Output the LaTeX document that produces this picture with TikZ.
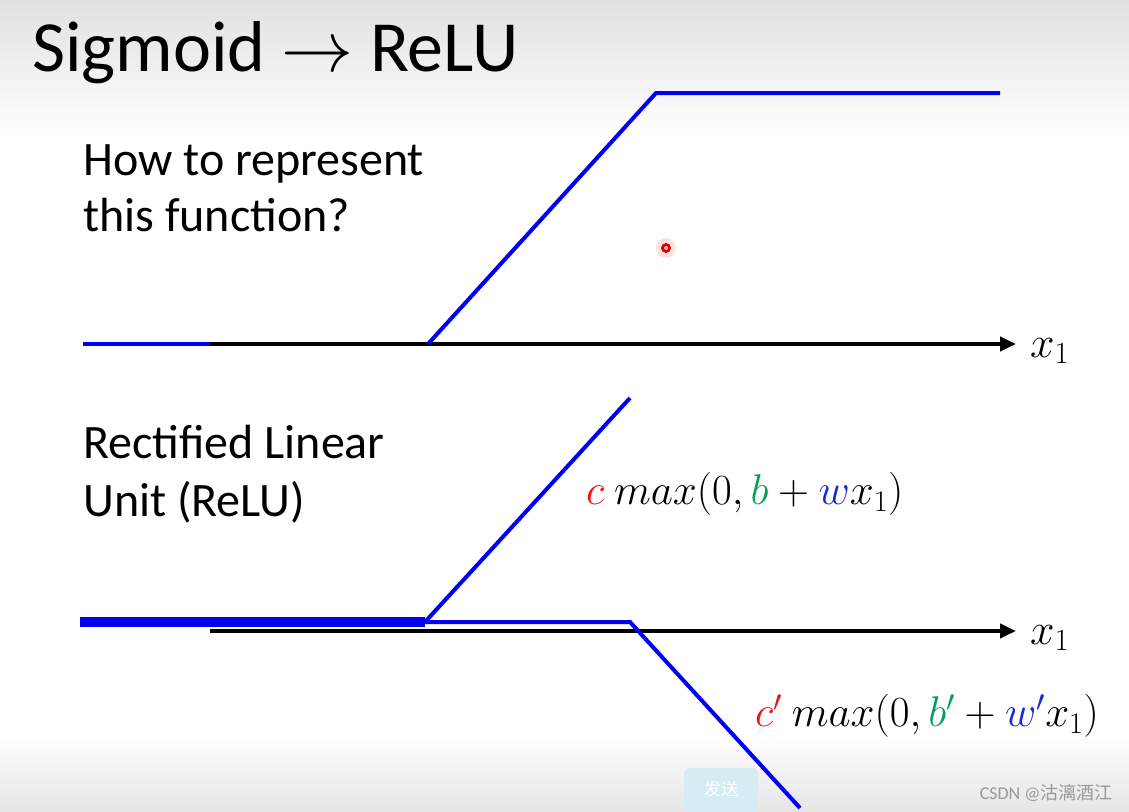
\documentclass[tikz,border=0pt]{standalone}
\usepackage{fix-cm}
\usepackage{fontspec}
\setmainfont{Carlito}
\newfontfamily\cjkfont{Noto Sans CJK SC}
\usetikzlibrary{arrows.meta}

\definecolor{relublue}{RGB}{0,0,245}
\definecolor{cred}{RGB}{240,20,20}
\definecolor{bgreen}{RGB}{0,160,90}
\definecolor{wblue}{RGB}{20,40,220}
\definecolor{btnblue}{RGB}{214,236,243}

\tikzset{
  axis/.style={line width=4pt, -{Triangle[length=16pt,width=14pt]}},
  relu/.style={relublue, line width=4pt, line join=miter},
  txt/.style={anchor=base west, inner sep=0pt, font=\fontsize{48}{56}\selectfont},
  formula/.style={anchor=west, inner sep=0pt, font=\fontsize{43}{50}\selectfont},
  xlabel/.style={anchor=west, inner sep=0pt, font=\fontsize{44}{52}\selectfont},
}

\begin{document}
\begin{tikzpicture}[x=1pt,y=-1pt]
\useasboundingbox (0,0) rectangle (1129,811);

% --- Background ---
\fill[white] (0,0) rectangle (1129,811);
\shade[top color=black!12, bottom color=white] (0,0) rectangle (1129,135);
\shade[top color=white, bottom color=black!10] (0,735) rectangle (1129,811);

% --- Title ---
\node[anchor=base west, inner sep=0pt, font=\fontsize{72}{78}\selectfont] (title) at (32,71) {Sigmoid $\rightarrow$ ReLU};

% --- Upper panel: hard sigmoid ---
\node[txt] (ask1) at (83,175) {How to represent};
\node[txt] (ask2) at (83,231) {this function?};

\coordinate (a0) at (210,344);
\coordinate (a1) at (1016,344);
\draw[axis] (a0) -- (a1);
\node[xlabel] (xa) at (1030,351) {$x_1$};

\coordinate (s0) at (83,344);
\coordinate (s1) at (210,344);
\coordinate (s2) at (428,344);
\coordinate (s3) at (656,93);
\coordinate (s4) at (1000,93);
\draw[relu] (s0) -- (s1);
\draw[relu] (s2) -- (s3) -- (s4);

% --- Laser pointer dot ---
\fill[red!12] (666,248) circle (10);
\fill[red!85!black] (666,248) circle (5);
\fill[red!30] (666,248) circle (2);

% --- Lower panel: two ReLUs ---
\node[txt] (name1) at (83,458) {Rectified Linear};
\node[txt] (name2) at (83,516) {Unit (ReLU)};

\coordinate (b0) at (210,631);
\coordinate (b1) at (1016,631);
\draw[axis] (b0) -- (b1);
\node[xlabel] (xb) at (1030,638) {$x_1$};

\coordinate (r0) at (80,622);
\coordinate (r1) at (425,622);
\coordinate (r2) at (630,398);
\coordinate (q1) at (630,622);
\coordinate (q2) at (800,808);
\draw[relublue, line width=10pt] (r0) -- (r1);
\draw[relu] (r1) -- (r2);
\draw[relu] (r1) -- (q1) -- (q2);

\node[formula] (f1) at (586,494) {$\textcolor{cred}{c}\ max(0,\textcolor{bgreen}{b}+\textcolor{wblue}{w}x_1)$};
\node[formula] (f2) at (755,716) {$\textcolor{cred}{c'}\ max(0,\textcolor{bgreen}{b'}+\textcolor{wblue}{w'}x_1)$};

% --- Overlay leftovers ---
\fill[btnblue, rounded corners=6pt] (684,768) rectangle (758,812);
\node[text=white, font=\cjkfont\fontsize{17}{19}\selectfont] (send) at (721,789) {发送};
\node[anchor=east, text=black!40, font=\fontsize{18}{20}\selectfont] (mark) at (1116,793) {CSDN @\cjkfont 沽漓酒江};

\end{tikzpicture}
\end{document}
